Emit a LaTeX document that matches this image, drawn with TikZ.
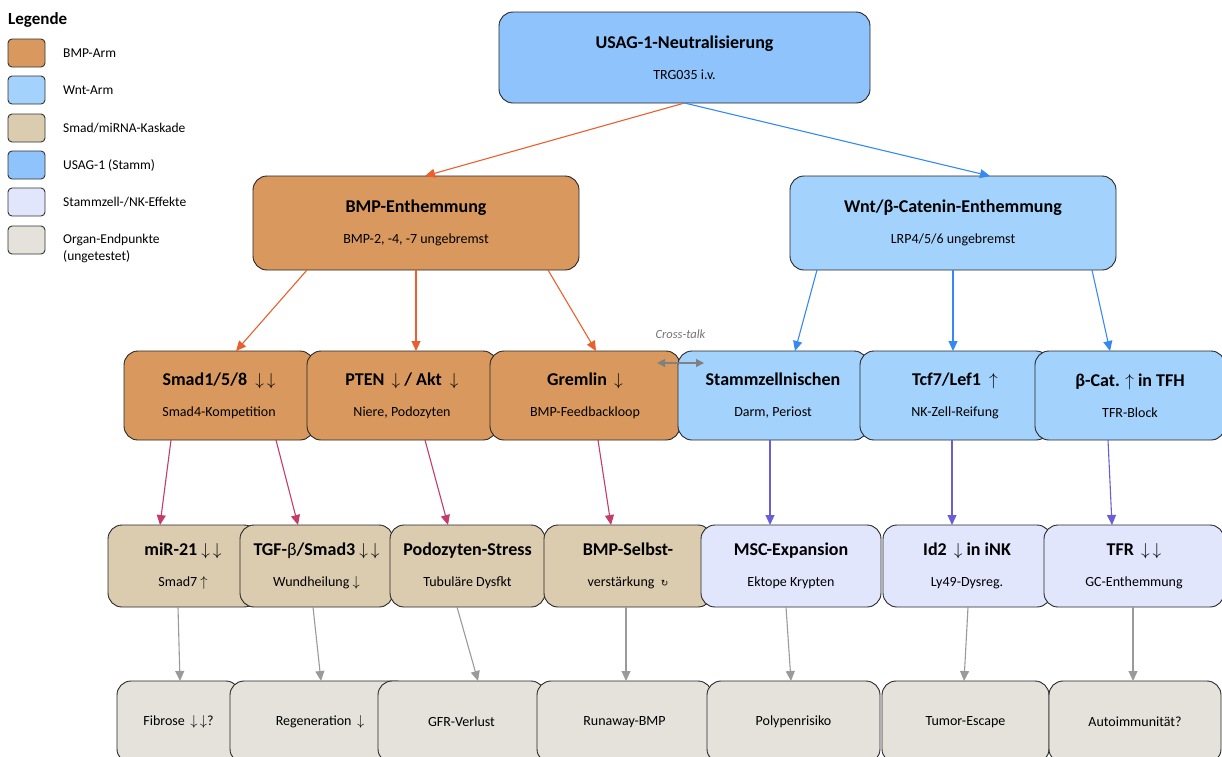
\documentclass[tikz,border=0pt]{standalone}
\usepackage{fontspec}
\setmainfont{Carlito}
\newfontfamily\symfont{DejaVu Sans}
\usetikzlibrary{positioning,arrows.meta}

\definecolor{bmpfill}{HTML}{D9995E}
\definecolor{wntfill}{HTML}{A3D2FD}
\definecolor{smadfill}{HTML}{DBCCB0}
\definecolor{usagfill}{HTML}{8FC3FC}
\definecolor{nkfill}{HTML}{E1E6FD}
\definecolor{organfill}{HTML}{E5E2DB}
\definecolor{bmpline}{HTML}{EA5F2D}
\definecolor{wntline}{HTML}{3589F2}
\definecolor{smadline}{HTML}{C43C6B}
\definecolor{nkline}{HTML}{6A5ED8}
\definecolor{organline}{HTML}{9A9A9A}

\newcommand{\boxlabel}[2]{{\fontsize{18}{21}\selectfont\bfseries #1}\\[15pt]#2}

\tikzset{
	stage/.style={draw=black!85, line width=0.9pt, rounded corners=14pt, align=center, inner sep=0pt, outer sep=0pt, font=\fontsize{14}{16}\selectfont},
	swatch/.style={draw=black!80, line width=0.9pt, rounded corners=4pt, minimum width=37pt, minimum height=28pt, inner sep=0pt, outer sep=0pt},
	legtext/.style={font=\fontsize{13.5}{17}\selectfont, align=left, inner sep=0pt},
	flow/.style={line width=1.1pt, -{Triangle[length=10pt,width=9pt]}},
}

\begin{document}
\begin{tikzpicture}[x=1pt, y=-1pt]
	\useasboundingbox (0,0) rectangle (1222,756);

	\node[anchor=west, inner sep=0pt, font=\fontsize{17}{20}\selectfont\bfseries] (legtitle) at (8,20) {Legende};
	\node[swatch, fill=bmpfill] (lg1) at (26.5,53) {};
	\node[legtext, right=18pt of lg1] (lt1) {BMP-Arm};
	\node[swatch, fill=wntfill] (lg2) at (26.5,90) {};
	\node[legtext, right=18pt of lg2] (lt2) {Wnt-Arm};
	\node[swatch, fill=smadfill] (lg3) at (26.5,128) {};
	\node[legtext, right=18pt of lg3] (lt3) {Smad/miRNA-Kaskade};
	\node[swatch, fill=usagfill] (lg4) at (26.5,165) {};
	\node[legtext, right=18pt of lg4] (lt4) {USAG-1 (Stamm)};
	\node[swatch, fill=nkfill] (lg5) at (26.5,202) {};
	\node[legtext, right=18pt of lg5] (lt5) {Stammzell-/NK-Effekte};
	\node[swatch, fill=organfill] (lg6) at (26.5,240) {};
	\node[legtext, right=18pt of lg6, yshift=-8pt] (lt6) {Organ-Endpunkte\\(ungetestet)};

	\node[stage, fill=usagfill, minimum width=371pt, minimum height=91pt] (usag) at (684.5,57.5) {\boxlabel{USAG-1-Neutralisierung}{TRG035 i.v.}};

	\node[stage, fill=bmpfill, minimum width=326pt, minimum height=94pt] (bmp) at (416,223) {\boxlabel{BMP-Enthemmung}{BMP-2, -4, -7 ungebremst}};
	\node[stage, fill=wntfill, minimum width=326pt, minimum height=94pt] (wnt) at (953,223) {\boxlabel{Wnt/β-Catenin-Enthemmung}{LRP4/5/6 ungebremst}};

	\node[stage, fill=bmpfill, minimum width=190pt, minimum height=89pt] (smad) at (219,395.5) {\boxlabel{Smad1/5/8 \ $\downarrow\,\downarrow$}{Smad4-Kompetition}};
	\node[stage, fill=bmpfill, minimum width=190pt, minimum height=89pt, right=-7pt of smad] (pten) {\boxlabel{PTEN \,$\downarrow$ / Akt \ $\downarrow$}{Niere, Podozyten}};
	\node[stage, fill=bmpfill, minimum width=190pt, minimum height=89pt, right=-7pt of pten] (gremlin) {\boxlabel{Gremlin \,$\downarrow$}{BMP-Feedbackloop}};
	\node[stage, fill=wntfill, minimum width=190pt, minimum height=89pt, right=-2pt of gremlin] (nische) {\boxlabel{Stammzellnischen}{Darm, Periost}};
	\node[stage, fill=wntfill, minimum width=190pt, minimum height=89pt, right=-8pt of nische] (tcf) {\boxlabel{Tcf7/Lef1 \ $\uparrow$}{NK-Zell-Reifung}};
	\node[stage, fill=wntfill, minimum width=190pt, minimum height=89pt, right=-15pt of tcf] (bcat) {\boxlabel{β-Cat. $\uparrow$ in TFH}{TFR-Block}};

	\node[stage, fill=smadfill, minimum width=150pt, minimum height=82pt] (mir) at (183,566) {\boxlabel{miR-21 $\downarrow\,\downarrow$}{Smad7 $\uparrow$}};
	\node[stage, fill=smadfill, minimum width=153pt, minimum height=82pt, right=-18pt of mir] (tgf) {\boxlabel{TGF-{\mdseries β}/Smad3 $\downarrow\,\downarrow$}{Wundheilung $\downarrow$}};
	\node[stage, fill=smadfill, minimum width=155pt, minimum height=82pt, right=-3pt of tgf] (podo) {\boxlabel{Podozyten-Stress}{Tubuläre Dysfkt}};
	\node[stage, fill=smadfill, minimum width=168pt, minimum height=82pt, right=-1pt of podo] (selbst) {\boxlabel{BMP-Selbst-}{verstärkung \ {\symfont\fontsize{9}{9}\selectfont ↻}}};
	\node[stage, fill=nkfill, minimum width=180pt, minimum height=82pt, right=-11pt of selbst] (msc) {\boxlabel{MSC-Expansion}{Ektope Krypten}};
	\node[stage, fill=nkfill, minimum width=168pt, minimum height=82pt, right=2pt of msc] (idz) {\boxlabel{Id2 \,$\downarrow$ in iNK}{Ly49-Dysreg.}};
	\node[stage, fill=nkfill, minimum width=180pt, minimum height=82pt, right=-7pt of idz] (tfr) {\boxlabel{TFR \,$\downarrow\,\downarrow$}{GC-Enthemmung}};

	\node[stage, fill=organfill, minimum width=123pt, minimum height=82pt] (fib) at (178.5,722) {Fibrose \,$\downarrow\,\downarrow$?};
	\node[stage, fill=organfill, minimum width=180pt, minimum height=82pt, right=-10pt of fib] (regen) {Regeneration \,$\downarrow$};
	\node[stage, fill=organfill, minimum width=167pt, minimum height=82pt, right=-32pt of regen] (gfr) {GFR-Verlust};
	\node[stage, fill=organfill, minimum width=175pt, minimum height=82pt, right=-8pt of gfr] (runaway) {Runaway-BMP};
	\node[stage, fill=organfill, minimum width=173pt, minimum height=82pt, right=-5pt of runaway] (polyp) {Polypenrisiko};
	\node[stage, fill=organfill, minimum width=167pt, minimum height=82pt, right=2pt of polyp] (tumor) {Tumor-Escape};
	\node[stage, fill=organfill, minimum width=172pt, minimum height=82pt, right=0pt of tumor] (auto) {Autoimmunität?};

	\draw[flow, bmpline] (usag.south) -- ([xshift=9pt]bmp.north);
	\draw[flow, wntline] (usag.south) -- ([xshift=37pt]wnt.north);

	\draw[flow, bmpline] ([xshift=-109pt]bmp.south) -- ([xshift=17pt]smad.north);
	\draw[flow, bmpline] (bmp.south) -- ([xshift=14pt]pten.north);
	\draw[flow, bmpline] ([xshift=132pt]bmp.south) -- ([xshift=11pt]gremlin.north);
	\draw[flow, wntline] ([xshift=-136pt]wnt.south) -- ([xshift=22pt]nische.north);
	\draw[flow, wntline] (wnt.south) -- ([xshift=-2pt]tcf.north);
	\draw[flow, wntline] ([xshift=139pt]wnt.south) -- ([xshift=-20pt]bcat.north);

	\draw[line width=1.1pt, black!50, {Triangle[length=8pt,width=8pt]}-{Triangle[length=8pt,width=8pt]}] ([xshift=-23pt,yshift=-12pt]gremlin.north east) -- ([xshift=26pt,yshift=-12pt]nische.north west)
		node[midway, above=24pt, inner sep=0pt, font=\fontsize{12.5}{14}\selectfont\itshape, text=black!55] (xtalk) {Cross-talk};

	\draw[flow, smadline] ([xshift=-48pt]smad.south) -- ([xshift=-23pt]mir.north);
	\draw[flow, smadline] ([xshift=57pt]smad.south) -- ([xshift=-18.5pt]tgf.north);
	\draw[flow, smadline] ([xshift=23pt]pten.south) -- ([xshift=-19.5pt]podo.north);
	\draw[flow, smadline] ([xshift=13pt]gremlin.south) -- ([xshift=-17pt]selbst.north);
	\draw[flow, nkline] ([xshift=-3pt]nische.south) -- ([xshift=-21pt]msc.north);
	\draw[flow, nkline] ([xshift=-3pt]tcf.south) -- ([xshift=-15pt]idz.north);
	\draw[flow, nkline] ([xshift=-22pt]bcat.south) -- ([xshift=-22pt]tfr.north);

	\draw[flow, organline] ([xshift=-5pt]mir.south) -- ([xshift=1.5pt]fib.north);
	\draw[flow, organline] ([xshift=-3.5pt]tgf.south) -- ([xshift=1pt]regen.north);
	\draw[flow, organline] ([xshift=-10.5pt]podo.south) -- ([xshift=16.5pt]gfr.north);
	\draw[flow, organline] ([xshift=-2pt]selbst.south) -- ([xshift=1.5pt]runaway.north);
	\draw[flow, organline] ([xshift=-5pt]msc.south) -- ([xshift=-2.5pt]polyp.north);
	\draw[flow, organline] ([xshift=1pt]idz.south) -- ([xshift=-1.5pt]tumor.north);
	\draw[flow, organline] ([xshift=-1pt]tfr.south) -- ([xshift=-2pt]auto.north);
\end{tikzpicture}
\end{document}
